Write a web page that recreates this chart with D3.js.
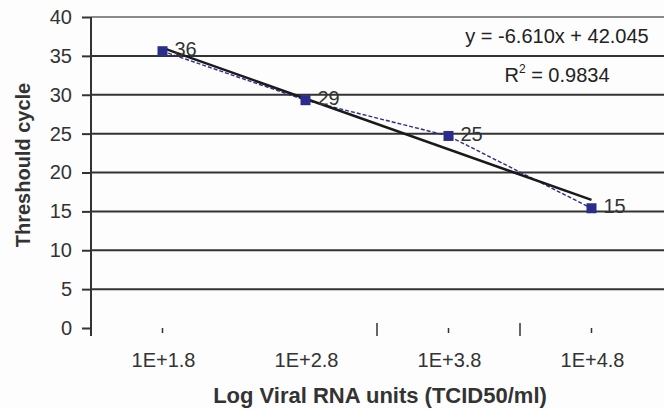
<!DOCTYPE html>
<html>
<head>
<meta charset="utf-8">
<script src="https://cdn.jsdelivr.net/npm/d3@7"></script>
<style>
  html, body { margin: 0; padding: 0; background: #fdfdfd; }
  svg { display: block; font-family: Arial, "Liberation Sans", sans-serif; }
</style>
</head>
<body>
<script>
// ---- data ----
const categories = ["1E+1.8", "1E+2.8", "1E+3.8", "1E+4.8"];
const ctValues = [35.6, 29.3, 24.7, 15.4];
const yTicks = [0, 5, 10, 15, 20, 25, 30, 35, 40];
const minorXTicks = [1, 3, 4];
const majorXTicks = [2.5, 3.5];
const equationText = "y = -6.610x + 42.045";
const r2Value = "0.9834";
const xTitle = "Log Viral RNA units (TCID50/ml)";
const yTitle = "Threshould cycle";

const W = 664, H = 409;
const svg = d3.select("body").append("svg").attr("width", W).attr("height", H);
svg.append("rect").attr("width", W).attr("height", H).attr("fill", "#fdfdfd");

const xIdx = categories.map((c, i) => i + 1);
const x = d3.scaleLinear().domain([0.5, 4.5]).range([91, 663]);
const y = d3.scaleLinear().domain([0, 40]).range([328, 17]);

// grid lines
svg.append("g").selectAll("line")
  .data(yTicks.filter(t => t > 0))
  .join("line")
  .attr("x1", x(0.5)).attr("x2", W)
  .attr("y1", d => y(d)).attr("y2", d => y(d))
  .attr("stroke", d => d === 40 ? "#8a8a8a" : "#333")
  .attr("stroke-width", 2);

// y axis
const yAxis = d3.axisLeft(y).tickValues(yTicks).tickSize(9).tickPadding(10);
const gy = svg.append("g").attr("transform", `translate(${x(0.5)},0)`).call(yAxis);
gy.select(".domain").remove();
gy.selectAll(".tick line").attr("stroke", "#333").attr("stroke-width", 2);
gy.selectAll(".tick text").attr("font-size", 20).attr("fill", "#333")
  .attr("font-family", "Arial, 'Liberation Sans', sans-serif");
svg.append("line").attr("x1", x(0.5)).attr("x2", x(0.5))
  .attr("y1", y(40)).attr("y2", y(0) + 8)
  .attr("stroke", "#333").attr("stroke-width", 2);

// x ticks (as in the scanned original)
svg.append("g").selectAll("line").data(minorXTicks).join("line")
  .attr("x1", d => x(d)).attr("x2", d => x(d))
  .attr("y1", y(0)).attr("y2", y(0) + 5)
  .attr("stroke", "#333").attr("stroke-width", 1.5);
svg.append("g").selectAll("line").data(majorXTicks).join("line")
  .attr("x1", d => x(d)).attr("x2", d => x(d))
  .attr("y1", y(0) - 5).attr("y2", y(0) + 8)
  .attr("stroke", "#333").attr("stroke-width", 1.5);

// x tick labels
svg.append("g").selectAll("text").data(categories).join("text")
  .attr("x", (d, i) => x(xIdx[i]) + 1)
  .attr("y", 367)
  .attr("text-anchor", "middle")
  .attr("font-size", 20).attr("fill", "#333")
  .text(d => d);

// axis titles
svg.append("text").attr("x", 380).attr("y", 403)
  .attr("text-anchor", "middle").attr("font-size", 22).attr("font-weight", "bold")
  .attr("fill", "#333").text(xTitle);
svg.append("text")
  .attr("transform", `translate(30,165) rotate(-90)`)
  .attr("text-anchor", "middle").attr("font-size", 20).attr("font-weight", "bold")
  .attr("fill", "#333").text(yTitle);

// data line (dashed blue)
const pts = ctValues.map((v, i) => [xIdx[i], v]);
svg.append("path").datum(pts)
  .attr("d", d3.line().x(d => x(d[0])).y(d => y(d[1])))
  .attr("fill", "none").attr("stroke", "#2b2d8c")
  .attr("stroke-width", 1.4).attr("stroke-dasharray", "4,2");

// linear trendline computed from the data
const mx = d3.mean(pts, d => d[0]), my = d3.mean(pts, d => d[1]);
const slope = d3.sum(pts, d => (d[0] - mx) * (d[1] - my)) / d3.sum(pts, d => (d[0] - mx) ** 2);
const intercept = my - slope * mx;
const trend = [1, 4].map(t => [t, intercept + slope * t]);
svg.append("path").datum(trend)
  .attr("d", d3.line().x(d => x(d[0])).y(d => y(d[1])))
  .attr("fill", "none").attr("stroke", "#1a1a1a").attr("stroke-width", 2.5);

// markers
svg.append("g").selectAll("rect").data(pts).join("rect")
  .attr("x", d => x(d[0]) - 5).attr("y", d => y(d[1]) - 5)
  .attr("width", 10).attr("height", 10)
  .attr("fill", "#2b2d8c");

// data labels
svg.append("g").selectAll("text").data(pts).join("text")
  .attr("x", d => x(d[0]) + 12)
  .attr("y", d => y(d[1]) + 5)
  .attr("font-size", 20).attr("fill", "#333")
  .text(d => Math.round(d[1]));

// equation box
svg.append("text").attr("x", 557).attr("y", 43)
  .attr("text-anchor", "middle").attr("font-size", 20).attr("fill", "#222")
  .text(equationText);
const r2 = svg.append("text").attr("x", 557).attr("y", 82)
  .attr("text-anchor", "middle").attr("font-size", 20).attr("fill", "#222");
r2.append("tspan").text("R");
r2.append("tspan").attr("font-size", 12).attr("dy", -9).text("2");
r2.append("tspan").attr("dy", 9).text(" = " + r2Value);
</script>
</body>
</html>
